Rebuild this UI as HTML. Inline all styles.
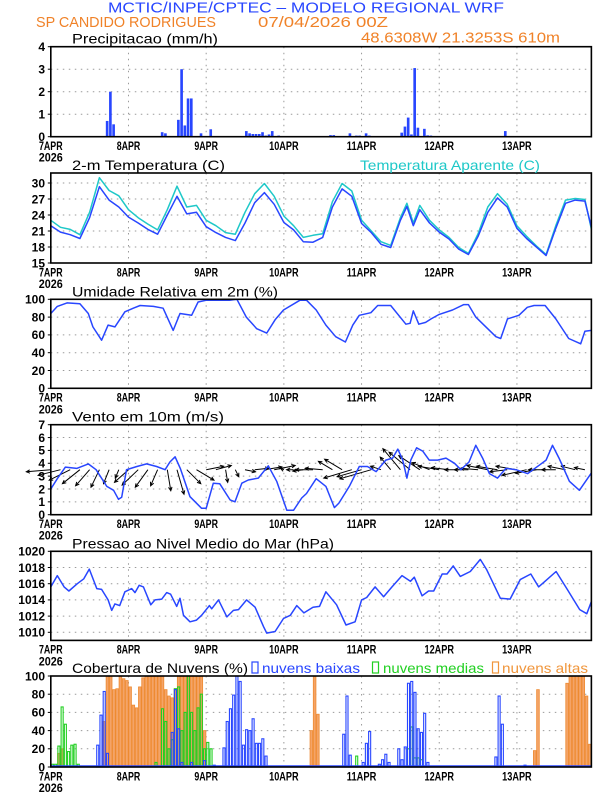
<!DOCTYPE html>
<html><head><meta charset="utf-8"><title>Meteograma WRF</title>
<style>
html,body{margin:0;padding:0;background:#fff;}
svg{display:block;font-family:"Liberation Sans",sans-serif;}
</style></head>
<body>
<svg id="chart" width="612" height="792" viewBox="0 0 612 792" xmlns="http://www.w3.org/2000/svg">
<rect x="0" y="0" width="612" height="792" fill="#fff"/>
<text x="108" y="12.5" font-size="15" fill="#2846ff" textLength="396" lengthAdjust="spacingAndGlyphs">MCTIC/INPE/CPTEC – MODELO REGIONAL WRF</text>
<text x="36" y="27" font-size="15" fill="#f08228" textLength="180" lengthAdjust="spacingAndGlyphs">SP CANDIDO RODRIGUES</text>
<text x="258" y="27" font-size="15" fill="#f08228" textLength="130" lengthAdjust="spacingAndGlyphs">07/04/2026 00Z</text>
<text x="361" y="42.5" font-size="15" fill="#f08228" textLength="199" lengthAdjust="spacingAndGlyphs">48.6308W 21.3253S 610m</text>
</svg>
<script>
// ---- data ----
const days = ["7APR","8APR","9APR","10APR","11APR","12APR","13APR"];
const prH = [7,17,18,19,34,35,39,40,41,42,43,46,49,60,61,62,63,64,65,66,67,68,70,86,87,92,94,95,97,98,108,109,110,111,112,113,115,116,117,140];
const prV = [0.02,0.7,2.0,0.55,0.2,0.15,0.75,3.0,0.5,1.7,1.7,0.15,0.33,0.25,0.15,0.12,0.12,0.12,0.2,0.05,0.1,0.25,0.05,0.07,0.07,0.15,0.05,0.05,0.15,0.05,0.18,0.45,0.85,0.1,3.05,0.4,0.35,0.06,0.05,0.25];
const tH = [0,3,6,9,12,15,18,21,24,27,30,33,36,39,42,45,48,51,54,57,60,63,66,69,72,75,78,81,84,87,90,93,96,99,102,105,108,110,112,114,117,120,123,126,129,132,135,138,141,144,147,150,153,156,159,162,165,167];
const tempV = [22,20.8,20.3,19.6,23.5,29.3,26.8,25.5,23.6,22.5,21.3,20.4,24,27.5,24.2,24.5,21.8,20.7,19.8,19.2,22.5,26.3,28.2,26,22.6,21.2,19,18.9,19.8,25.5,28.9,27.5,22.4,20.7,18.5,17.9,23,25.6,22,25,22.5,20.8,19.5,17.6,16.6,20,24.5,27.2,25.5,21.5,19.6,18,16.4,21.5,26.2,26.8,26.6,21.7];
const appV = [23,21.7,21.3,20.3,24.5,31,28.6,27.6,25,23.5,22.3,21.2,25,29.4,25.5,25.8,23,22,20.7,20.4,24.5,28,29.9,27.5,23.8,22,19.8,20.2,20.5,26.5,29.9,28.5,23,21,19,18.3,23.5,26.2,22.5,25.8,23,21.2,19.8,17.9,16.8,20.5,25.5,28,26,22,20,18.2,16.6,22,26.8,27.1,26.9,21.3];
const rhH = [0,2,5,9,11.6,13,15.7,17.7,19.8,22.9,25.5,27.6,31.7,34.7,37.8,39.9,43.5,45.5,48.1,55.2,57.5,60.4,63.6,66.7,69.3,71.9,77,79,82,85,88,91,93.3,95.3,98.9,101,105,109.7,111,112,113.7,115.8,117.5,120,124.1,127.6,129,131.3,134.4,137.5,139,141.1,144.6,147.2,149.3,152.7,156,160,163.7,165,167];
const rhV = [84,92,96,95,84,69,54,71,69,86,90,93,92,90,65,84,82,97,99,99,100,80,67,62,77,88,99,99,88,71,58,52,71,82,85,93,93,72,73,87,72,74,78,83,88,94,94,80,69,58,56,78,82,91,93,93,78,56,50,64,65];
const wsH = [0,2,4.5,8,11.6,14,17.3,19.4,20.9,21.9,23.4,26.6,29.6,32.7,35.3,36.8,38.4,40,43,46.6,48,50.2,52.2,55.4,56.9,59,61,64.1,67.2,69.8,72.9,75,77.5,79,82,85,87.6,89,92.2,95.3,97.8,100.5,103.5,105.6,107.2,108.7,110,111.2,113,114.9,116.9,119.5,122.1,124.7,126.7,129.2,131.3,133.4,135.5,138,140.6,143.7,147.3,150.9,153,155,157,160.2,163.3,167];
const wsV = [2,2.8,3.7,3.6,3.95,3.5,2.2,1.9,1.2,1.35,3.5,3.75,3.95,3.75,3.5,4.1,4.5,3.6,1.4,0.5,0.5,2.45,2.4,1.15,1,2.45,2.7,2.85,3.8,2.6,0.35,0.35,1.3,1.65,2.8,2.2,0.55,0.9,2.2,3.75,3.75,3.35,4.25,4.4,5.1,4.25,2.85,4.25,5.2,4.95,4.25,4.25,4.4,4,3.5,4.1,5.4,4.4,3.2,2.85,3.6,3.5,3.2,3.85,4.25,5.4,4.4,2.6,1.9,3.25];
const wdH = [0,3,6,9,12,15,18,21,24,27,30,33,36,39,42,45,48,51,54,57,60,63,66,69,72,75,78,81,84,87,90,93,96,99,102,105,108,111,114,117,120,123,126,129,132,135,138,141,144,147,150,153,156,159,162,165];
const wdU = [-3.5,-3.2,-3,-2.5,-2,-1.2,-0.8,-0.5,-2,-2.3,-1.8,-1,0.5,1,2,2.5,2.5,2.2,0.3,0.5,1.5,2,2.5,3,-0.5,-1,-1.5,-2.5,-2.5,-2,-2.5,-4,-3.5,-4.5,-1.5,-1.5,-2.5,-3,-3,-2.5,-3,-2.5,-2,-2,-2.5,-3,-3,-2.5,-3,-3.5,-3,-2.5,-2,-2.5,-2,-1.5];
const wdV = [-0.3,-0.8,-1.5,-2,-2.3,-2.5,-2,-1.2,-1.8,-2.2,-2.5,-2.3,-3,-3.5,-2,-1.5,0.5,0.6,-1.8,-1,-0.3,0.2,0.4,0.6,0.2,0,-0.2,0,0.2,1.2,1.5,-1.2,-1,-1.3,0.5,1.8,3,2.5,2,1,0.5,0.3,0,0,0.2,0.6,0.5,-0.3,0.5,-0.8,-0.5,0,0,0.5,0.5,0.3];
const pH = [0,2,4.1,5.6,8.2,10.2,11.9,14.2,15.7,17.7,18.8,19.8,21.3,22.9,25,26,27.3,28.6,30.9,32.2,34.3,35.8,37,38.9,39.9,41,43,45,46.6,49,49.7,51.8,54.4,56.4,58,60.5,63.1,65.7,66.7,69.3,71.9,74,76,78.2,81,83,85,88.3,91.2,94,96,97.6,100.2,102.8,105.4,108.5,111.1,112.3,114.7,116.7,118.3,120.9,122.4,124.3,126.5,129.6,132.7,134.7,138.9,141.9,145,148.3,150.7,153.3,156.1,159.4,163.4,165.6,167];
const pV = [1015.6,1017,1015.6,1015.1,1016,1016.6,1017.8,1015.4,1015.3,1014,1012.7,1013.5,1013.3,1015,1015.4,1014.9,1015.8,1015.6,1013.4,1014,1014.1,1014.9,1014.7,1013.2,1014.2,1012.1,1011.3,1011.5,1012.1,1013.3,1012.9,1014,1011.9,1012.7,1012.8,1014,1013.1,1010.7,1009.9,1010.1,1011.7,1012.1,1013.3,1012.4,1013.1,1013.2,1015,1013.4,1010.9,1011.3,1014,1014.3,1015.6,1014.4,1015.6,1017,1016.3,1016.8,1014.5,1015.1,1015.1,1017.2,1017.2,1018.2,1016.9,1017.5,1019,1017.7,1014.2,1014.1,1016.5,1017.2,1015.6,1016.5,1017.5,1015.4,1012.8,1012.3,1013.8];
const hiH = [2,3,16,17,18,19,20,21,22,23,24,25,26,27,28,29,30,31,32,33,34,35,36,37,38,39,40,41,42,43,44,45,46,47,80,81,82,149,150,159,160,161,162,163,164,165,166];
const hiV = [15,20,50,100,100,85,86,100,97,95,88,68,65,88,98,100,100,100,100,100,100,85,78,76,86,100,100,100,100,100,100,100,100,40,40,100,58,18,85,92,100,100,100,100,100,78,25];
const midH = [0,1,2,3,4,5,6,7,8,32,34,35,36,37,38,39,40,41,42,43,44,45,46,47,48,49,94,110,111,112,113,114];
const midV = [3,3,23,66,47,17,24,25,3,5,64,50,20,30,86,88,40,60,100,60,40,65,80,20,27,20,12,20,44,10,10,8];
const loH = [14,15,16,17,37,38,39,40,43,47,50,53,54,55,56,57,58,59,60,61,62,63,64,65,66,90,91,92,96,97,98,101,102,103,104,107,108,109,110,111,112,113,114,115,116,137,138,139,146];
const loV = [24,57,83,15,38,85,42,5,5,7,2,21,50,64,79,100,94,24,41,40,53,26,26,31,12,36,78,13,5,26,39,3,8,14,5,20,8,22,92,94,82,42,38,59,5,11,78,47,2];
const precipTicks = [0,1,2,3,4];
const tempTicks = [15,18,21,24,27,30];
const rhTicks = [0,20,40,60,80,100];
const windTicks = [0,1,2,3,4,5,6,7];
const presTicks = [1010,1012,1014,1016,1018,1020];
const cloudTicks = [0,20,40,60,80,100];

// ---- layout ----
const NS = "http://www.w3.org/2000/svg";
const svg = document.getElementById("chart");
const X0 = 50.8, PXH = 3.237, HMAX = 167;
function X(h){ return X0 + h * PXH; }
function Y(p, v){ return p.bottom - (v - p.min) / (p.max - p.min) * (p.bottom - p.top); }
function mk(tag, attrs, parent){
  const e = document.createElementNS(NS, tag);
  for (const k in attrs) e.setAttribute(k, attrs[k]);
  (parent || svg).appendChild(e);
  return e;
}
const BLUE = "#2846ff", CYAN = "#1ec8c8", GREEN = "#22d022", ORANGE = "#f0963c";

function panel(name, p, ticks, title, titleLen){
  const g = mk("g", {});
  
  
  p.g = g;
  const right = X(HMAX);
  ticks.forEach(t => {
    if (t === p.min || Math.abs(Y(p,t) - p.top) < 1) return;
    const l = mk("line", {x1: X0, x2: right, y1: Y(p,t), y2: Y(p,t), stroke: "#9a9a9a", "stroke-width": 1, "stroke-dasharray": "1.5 4.5"}, g);
    
    
  });
  for (let d = 1; d < 7; d++){
    const l = mk("line", {x1: X(d*24), x2: X(d*24), y1: p.top, y2: p.bottom, stroke: "#9a9a9a", "stroke-width": 1, "stroke-dasharray": "1.5 4.5"}, g);
    
    
  }
  ticks.forEach(t => {
    const tx = mk("text", {x: 45, y: Y(p,t) + 4.3, "font-size": 12, "font-weight": "bold", "text-anchor": "end", fill: "#000"}, g);
    tx.textContent = t;
    
    
    const tk = mk("line", {x1: X0 - 3, x2: X0, y1: Y(p,t), y2: Y(p,t), stroke: "#000", "stroke-width": 1}, g);
    
    
  });
  days.forEach((d, i) => {
    const tx = mk("text", {x: X(i*24), y: p.bottom + 13.3, "font-size": 12, "font-weight": "bold", "text-anchor": "middle", fill: "#000", textLength: d.length * 5.9, lengthAdjust: "spacingAndGlyphs"}, g);
    tx.textContent = d;
    
    
  });
  const yr = mk("text", {x: X0, y: p.bottom + 25, "font-size": 12, "font-weight": "bold", "text-anchor": "middle", fill: "#000", textLength: 24, lengthAdjust: "spacingAndGlyphs"}, g);
  yr.textContent = "2026";
  
  
  const tt = mk("text", {x: 72, y: p.top - 3, "font-size": 14, fill: "#000", textLength: titleLen, lengthAdjust: "spacingAndGlyphs"}, g);
  tt.textContent = title;
  
  
  return g;
}
function frame(name, p){
  const r = mk("rect", {x: X0, y: p.top, width: X(HMAX) - X0, height: p.bottom - p.top, fill: "none", stroke: "#000", "stroke-width": 1.6}, p.g);
  
  
}
function line(p, hs, vs, color, name){
  const pts = hs.map((h, i) => X(h).toFixed(1) + "," + Y(p, vs[i]).toFixed(1)).join(" ");
  const l = mk("polyline", {points: pts, fill: "none", stroke: color, "stroke-width": 1.5, "stroke-linejoin": "round"}, p.g);
  
  
}

const P1 = {top: 46.7, bottom: 136.7, min: 0, max: 4};
const P2 = {top: 173, bottom: 263, min: 15, max: 31.875};
const P3 = {top: 299.3, bottom: 388.3, min: 0, max: 100};
const P4 = {top: 424.7, bottom: 514.7, min: 0, max: 7};
const P5 = {top: 551.3, bottom: 640.4, min: 1009, max: 1020};
const P6 = {top: 676, bottom: 767, min: 0, max: 100};

panel("precip", P1, precipTicks, "Precipitacao (mm/h)", 146);
prH.forEach((h, i) => {
  const b = mk("rect", {x: X(h), y: Y(P1, prV[i]), width: PXH - 0.6, height: P1.bottom - Y(P1, prV[i]), fill: BLUE}, P1.g);
  
  
});
frame("precip", P1);

panel("temp", P2, tempTicks, "2-m Temperatura (C)", 153);
const at = mk("text", {x: 360, y: P2.top - 3, "font-size": 14, fill: CYAN, textLength: 180, lengthAdjust: "spacingAndGlyphs"});
at.textContent = "Temperatura Aparente (C)";


line(P2, tH, appV, CYAN, "apparent-temp-line");
line(P2, tH, tempV, BLUE, "temp-line");
frame("temp", P2);

panel("rh", P3, rhTicks, "Umidade Relativa em 2m (%)", 206);
line(P3, rhH, rhV, BLUE, "rh-line");
frame("rh", P3);

panel("wind", P4, windTicks, "Vento em 10m (m/s)", 152);
const base = Y(P4, 3.5), SC = 7;
wdH.forEach((h, i) => {
  const x1 = X(h), y1 = base, x2 = x1 + wdU[i] * SC, y2 = y1 - wdV[i] * SC;
  const ang = Math.atan2(y2 - y1, x2 - x1);
  const a = mk("path", {d: "M" + x1.toFixed(1) + "," + y1.toFixed(1) + "L" + x2.toFixed(1) + "," + y2.toFixed(1) +
    "M" + (x2 - 4*Math.cos(ang - 0.45)).toFixed(1) + "," + (y2 - 4*Math.sin(ang - 0.45)).toFixed(1) + "L" + x2.toFixed(1) + "," + y2.toFixed(1) +
    "L" + (x2 - 4*Math.cos(ang + 0.45)).toFixed(1) + "," + (y2 - 4*Math.sin(ang + 0.45)).toFixed(1),
    fill: "none", stroke: "#000", "stroke-width": 1}, P4.g);
  
  
});
line(P4, wsH, wsV, BLUE, "wind-speed-line");
frame("wind", P4);

panel("pressure", P5, presTicks, "Pressao ao Nivel Medio do Mar (hPa)", 262);
line(P5, pH, pV, BLUE, "pressure-line");
frame("pressure", P5);

panel("cloud", P6, cloudTicks, "Cobertura de Nuvens (%)", 176);
function legend(x, color, label, tx, tl, name){
  const r = mk("rect", {x: x, y: P6.top - 14, width: 6, height: 11, fill: "none", stroke: color, "stroke-width": 1.2});
  
  
  const t = mk("text", {x: tx, y: P6.top - 3, "font-size": 14, fill: color, textLength: tl, lengthAdjust: "spacingAndGlyphs"});
  t.textContent = label;
  
  
}
legend(252, BLUE, "nuvens baixas", 262, 98, "low-cloud");
legend(372.5, GREEN, "nuvens medias", 383, 101, "mid-cloud");
legend(492.5, ORANGE, "nuvens altas", 502, 86, "high-cloud");
hiH.forEach((h, i) => {
  const b = mk("rect", {x: X(h) + 0.3, y: Y(P6, hiV[i]), width: PXH - 0.6, height: P6.bottom - Y(P6, hiV[i]), fill: "#f4a468", stroke: "#ee8a30", "stroke-width": 0.8}, P6.g);
  
  
});
midH.forEach((h, i) => {
  const b = mk("rect", {x: X(h) + 0.6, y: Y(P6, midV[i]), width: PXH - 1.2, height: P6.bottom - Y(P6, midV[i]), fill: "none", stroke: GREEN, "stroke-width": 1.1}, P6.g);
  
  
});
loH.forEach((h, i) => {
  const b = mk("rect", {x: X(h) + 0.6, y: Y(P6, loV[i]), width: PXH - 1.2, height: P6.bottom - Y(P6, loV[i]), fill: "none", stroke: BLUE, "stroke-width": 1.1}, P6.g);
  
  
});
const bl = mk("line", {x1: X0, x2: X(HMAX), y1: P6.bottom - 1, y2: P6.bottom - 1, stroke: BLUE, "stroke-width": 1.5}, P6.g);


frame("cloud", P6);
</script>
</body></html>
